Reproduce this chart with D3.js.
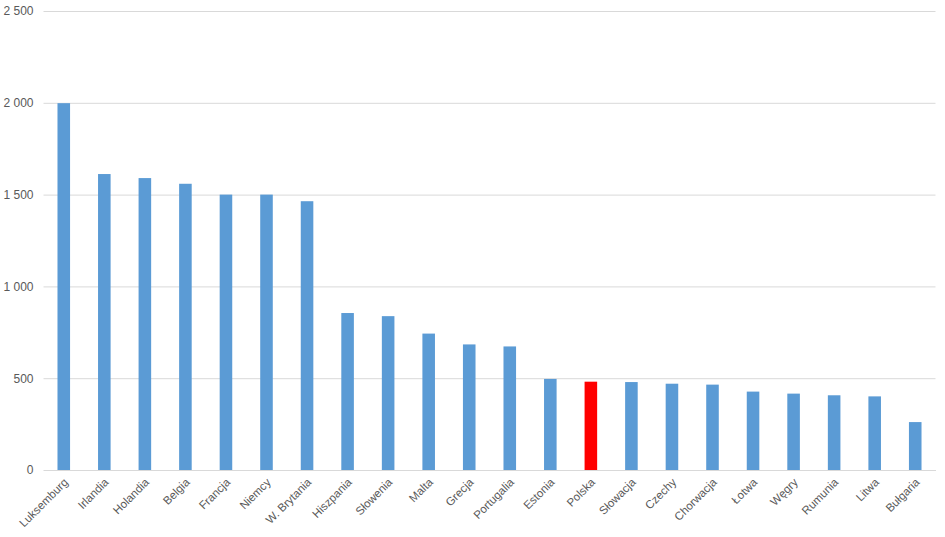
<!DOCTYPE html>
<meta charset="utf-8">
<script src="https://d3js.org/d3.v7.min.js"></script>
<style>
  body { margin: 0; background: #fff; }
  text { font-family: "Liberation Sans", Arial, sans-serif; fill: #595959; }
</style>
<div id="chart"></div>
<script>
  // data
  const countries = ["Luksemburg", "Irlandia", "Holandia", "Belgia", "Francja", "Niemcy",
    "W. Brytania", "Hiszpania", "Słowenia", "Malta", "Grecja", "Portugalia", "Estonia",
    "Polska", "Słowacja", "Czechy", "Chorwacja", "Łotwa", "Węgry", "Rumunia", "Litwa", "Bułgaria"];
  const values = [1998, 1612, 1590, 1559, 1500, 1500, 1464, 855, 838, 743, 684, 673, 496,
    481, 479, 470, 465, 427, 416, 407, 401, 261];
  const highlight = "Polska";
  const yTicks = [0, 500, 1000, 1500, 2000, 2500];

  const width = 945, height = 537;
  const margin = {top: 11, right: 9.5, bottom: 67, left: 43.5};

  const svg = d3.select("#chart").append("svg")
    .attr("width", width)
    .attr("height", height);

  const x = d3.scaleBand()
    .domain(countries)
    .range([margin.left, width - margin.right])
    .paddingInner(0.69)
    .paddingOuter(0.345);

  const y = d3.scaleLinear()
    .domain([0, 2500])
    .range([height - margin.bottom, margin.top]);

  const fmt = d => d3.format(",")(d).replace(/,/g, " ");

  // gridlines + y labels
  const yAxis = svg.append("g")
    .attr("transform", `translate(${margin.left},0)`)
    .call(d3.axisLeft(y).tickValues(yTicks).tickSize(-(width - margin.left - margin.right)).tickFormat(fmt).tickPadding(10));
  yAxis.select(".domain").remove();
  yAxis.selectAll(".tick line").attr("stroke", "#d9d9d9").attr("stroke-width", 1);
  yAxis.selectAll(".tick text").style("font-size", "12px").attr("fill", "#595959");

  // bars
  svg.append("g")
    .selectAll("rect")
    .data(countries)
    .join("rect")
      .attr("x", d => x(d))
      .attr("width", x.bandwidth())
      .attr("y", (d, i) => y(values[i]))
      .attr("height", (d, i) => y(0) - y(values[i]))
      .attr("fill", d => d === highlight ? "#ff0000" : "#5b9bd5");

  // x axis labels
  const xAxis = svg.append("g")
    .attr("transform", `translate(0,${y(0)})`)
    .call(d3.axisBottom(x).tickSize(0).tickPadding(0));
  xAxis.select(".domain").attr("stroke", "#d9d9d9");
  xAxis.selectAll(".tick text")
    .style("font-size", "11.5px")
    .attr("fill", "#595959")
    .attr("text-anchor", "end")
    .attr("dy", null)
    .attr("transform", "translate(5,13) rotate(-45)");
</script>
